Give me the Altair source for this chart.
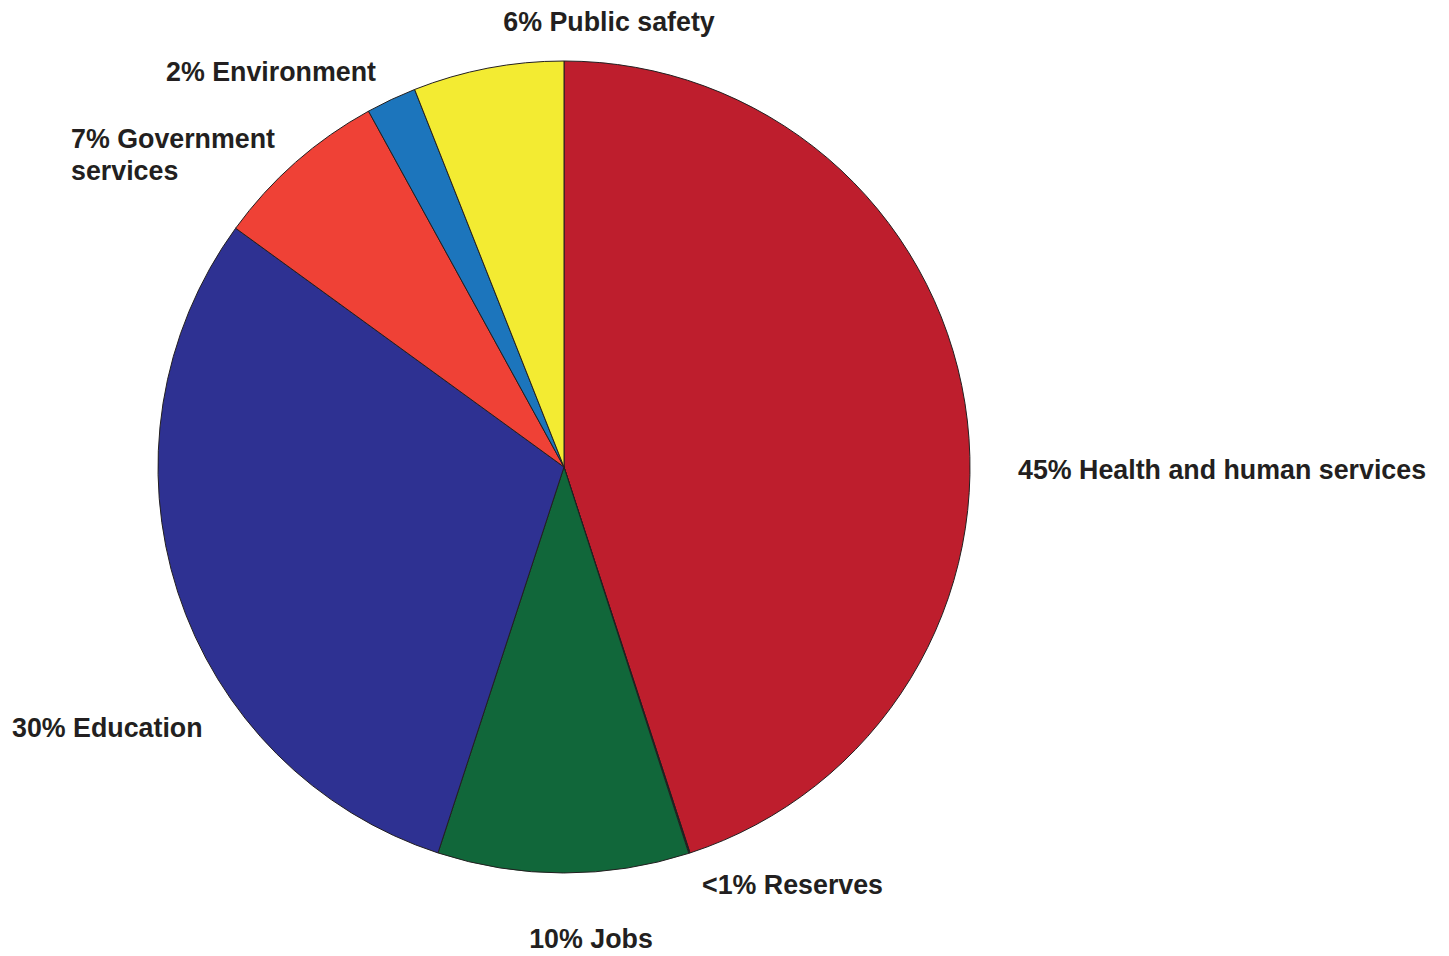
import altair as alt
import pandas as pd

# Slice data (clockwise from 12 o'clock)
categories = ["Health and human services", "Reserves", "Jobs", "Education",
              "Government services", "Environment", "Public safety"]
shares = [45, 0.05, 10, 30, 7, 2, 6]
colors = ["#BE1E2D", "#231F20", "#11673A", "#2E3192", "#EF4136", "#1C75BC", "#F3EB32"]

# Labels
label_texts = ["45% Health and human services", "<1% Reserves", "10% Jobs",
               "30% Education", "7% Government", "services", "2% Environment",
               "6% Public safety"]
label_x = [1010, 694, 583, 4, 63, 63, 263, 601]
label_y = [463, 878, 932, 721, 132, 164, 65, 15]
label_align = ["left", "left", "center", "left", "left", "left", "center", "center"]

slices = pd.DataFrame({"category": categories, "share": shares,
                       "order": list(range(len(categories)))})
labels = pd.DataFrame({"text": label_texts, "lx": label_x, "ly": label_y,
                       "align": label_align})

W, H = 1433, 948
CX, CY, R = 556, 459, 406

pie = alt.Chart(slices).mark_arc(
    outerRadius=R, stroke="#231F20", strokeWidth=1
).encode(
    theta=alt.Theta("share:Q", stack=True),
    order=alt.Order("order:Q"),
    color=alt.Color("category:N",
                    scale=alt.Scale(domain=categories, range=colors),
                    legend=None),
    x=alt.value(CX),
    y=alt.value(CY),
)

def text_layer(align):
    return alt.Chart(labels).transform_filter(
        alt.datum.align == align
    ).mark_text(
        font="Liberation Sans", fontWeight="bold", fontSize=26.8,
        color="#231F20", align=align, baseline="middle"
    ).encode(
        x=alt.X("lx:Q", scale=None),
        y=alt.Y("ly:Q", scale=None),
        text="text:N",
    )

chart = alt.layer(pie, text_layer("left"), text_layer("center")).properties(
    width=W, height=H, padding=0, autosize="none"
).configure_view(stroke=None)

chart.save("out.html", embed_options={"renderer": "svg", "actions": False})
